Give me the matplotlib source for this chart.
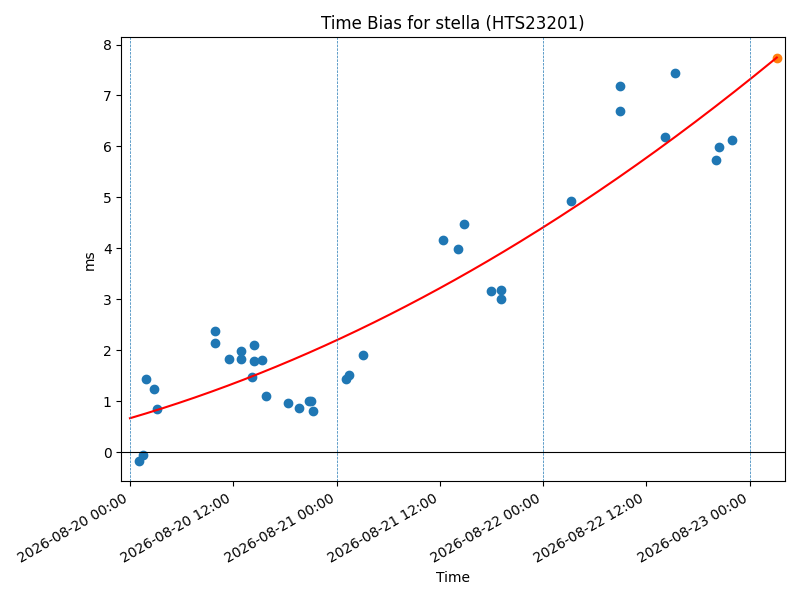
import numpy as np
import pandas as pd
import matplotlib.pyplot as plt
import matplotlib.dates as mdates

# measured time bias samples
times = [
    '2026-08-20 01:03', '2026-08-20 01:30', '2026-08-20 01:54', '2026-08-20 02:48',
    '2026-08-20 03:12', '2026-08-20 09:54', '2026-08-20 09:54', '2026-08-20 11:30',
    '2026-08-20 12:51', '2026-08-20 12:51', '2026-08-20 14:27', '2026-08-20 14:27',
    '2026-08-20 15:18', '2026-08-20 14:12', '2026-08-20 15:51', '2026-08-20 18:24',
    '2026-08-20 19:36', '2026-08-20 20:48', '2026-08-20 21:00', '2026-08-20 21:15',
    '2026-08-21 01:03', '2026-08-21 01:24', '2026-08-21 03:03', '2026-08-21 12:24',
    '2026-08-21 14:06', '2026-08-21 14:48', '2026-08-21 17:54', '2026-08-21 19:06',
    '2026-08-21 19:06', '2026-08-22 03:16', '2026-08-22 08:54', '2026-08-22 08:58',
    '2026-08-22 14:12', '2026-08-22 15:16', '2026-08-22 20:05', '2026-08-22 20:28',
    '2026-08-22 22:00',
]
bias_ms = [
    -0.18, -0.06, 1.44, 1.23,
    0.855, 2.38, 2.15, 1.82,
    1.99, 1.82, 2.11, 1.79,
    1.81, 1.47, 1.11, 0.96,
    0.86, 1.0, 1.0, 0.80,
    1.44, 1.51, 1.91, 4.17,
    3.99, 4.47, 3.17, 3.18,
    3.01, 4.93, 6.69, 7.18,
    6.18, 7.44, 5.73, 5.99,
    6.12,
]

# fitted trend (quadratic in hours since start)
fit_start = '2026-08-20 00:00'
fit_coeffs = [0.000595, 0.0495, 0.665]  # c2, c1, c0
pred_time = '2026-08-23 03:09'
day_marks = ['2026-08-20', '2026-08-21', '2026-08-22', '2026-08-23']

t = pd.to_datetime(times)
t0 = pd.Timestamp(fit_start)
tp = pd.Timestamp(pred_time)

hours = np.linspace(0, (tp - t0).total_seconds() / 3600, 200)
fit_t = t0 + pd.to_timedelta(hours, unit='h')
fit_y = np.polyval(fit_coeffs, hours)
pred_y = np.polyval(fit_coeffs, (tp - t0).total_seconds() / 3600)

fig, ax = plt.subplots(figsize=(8, 6))
ax.scatter(t, bias_ms)
ax.plot(fit_t, fit_y, color='red')
ax.scatter([tp], [pred_y], color='tab:orange')

for d in day_marks:
    ax.axvline(pd.Timestamp(d), color='tab:blue', ls='--', lw=0.5)
ax.axhline(0, color='black', lw=0.8)

ax.set_xlim(t0 - pd.Timedelta(hours=1.0), t0 + pd.Timedelta(hours=76.1))
ax.xaxis.set_major_locator(mdates.HourLocator(byhour=[0, 12]))
ax.xaxis.set_major_formatter(mdates.DateFormatter('%Y-%m-%d %H:%M'))
fig.autofmt_xdate()

ax.set_title('Time Bias for stella (HTS23201)')
ax.set_xlabel('Time')
ax.set_ylabel('ms')

plt.tight_layout()
plt.savefig('out.png', dpi=100)
